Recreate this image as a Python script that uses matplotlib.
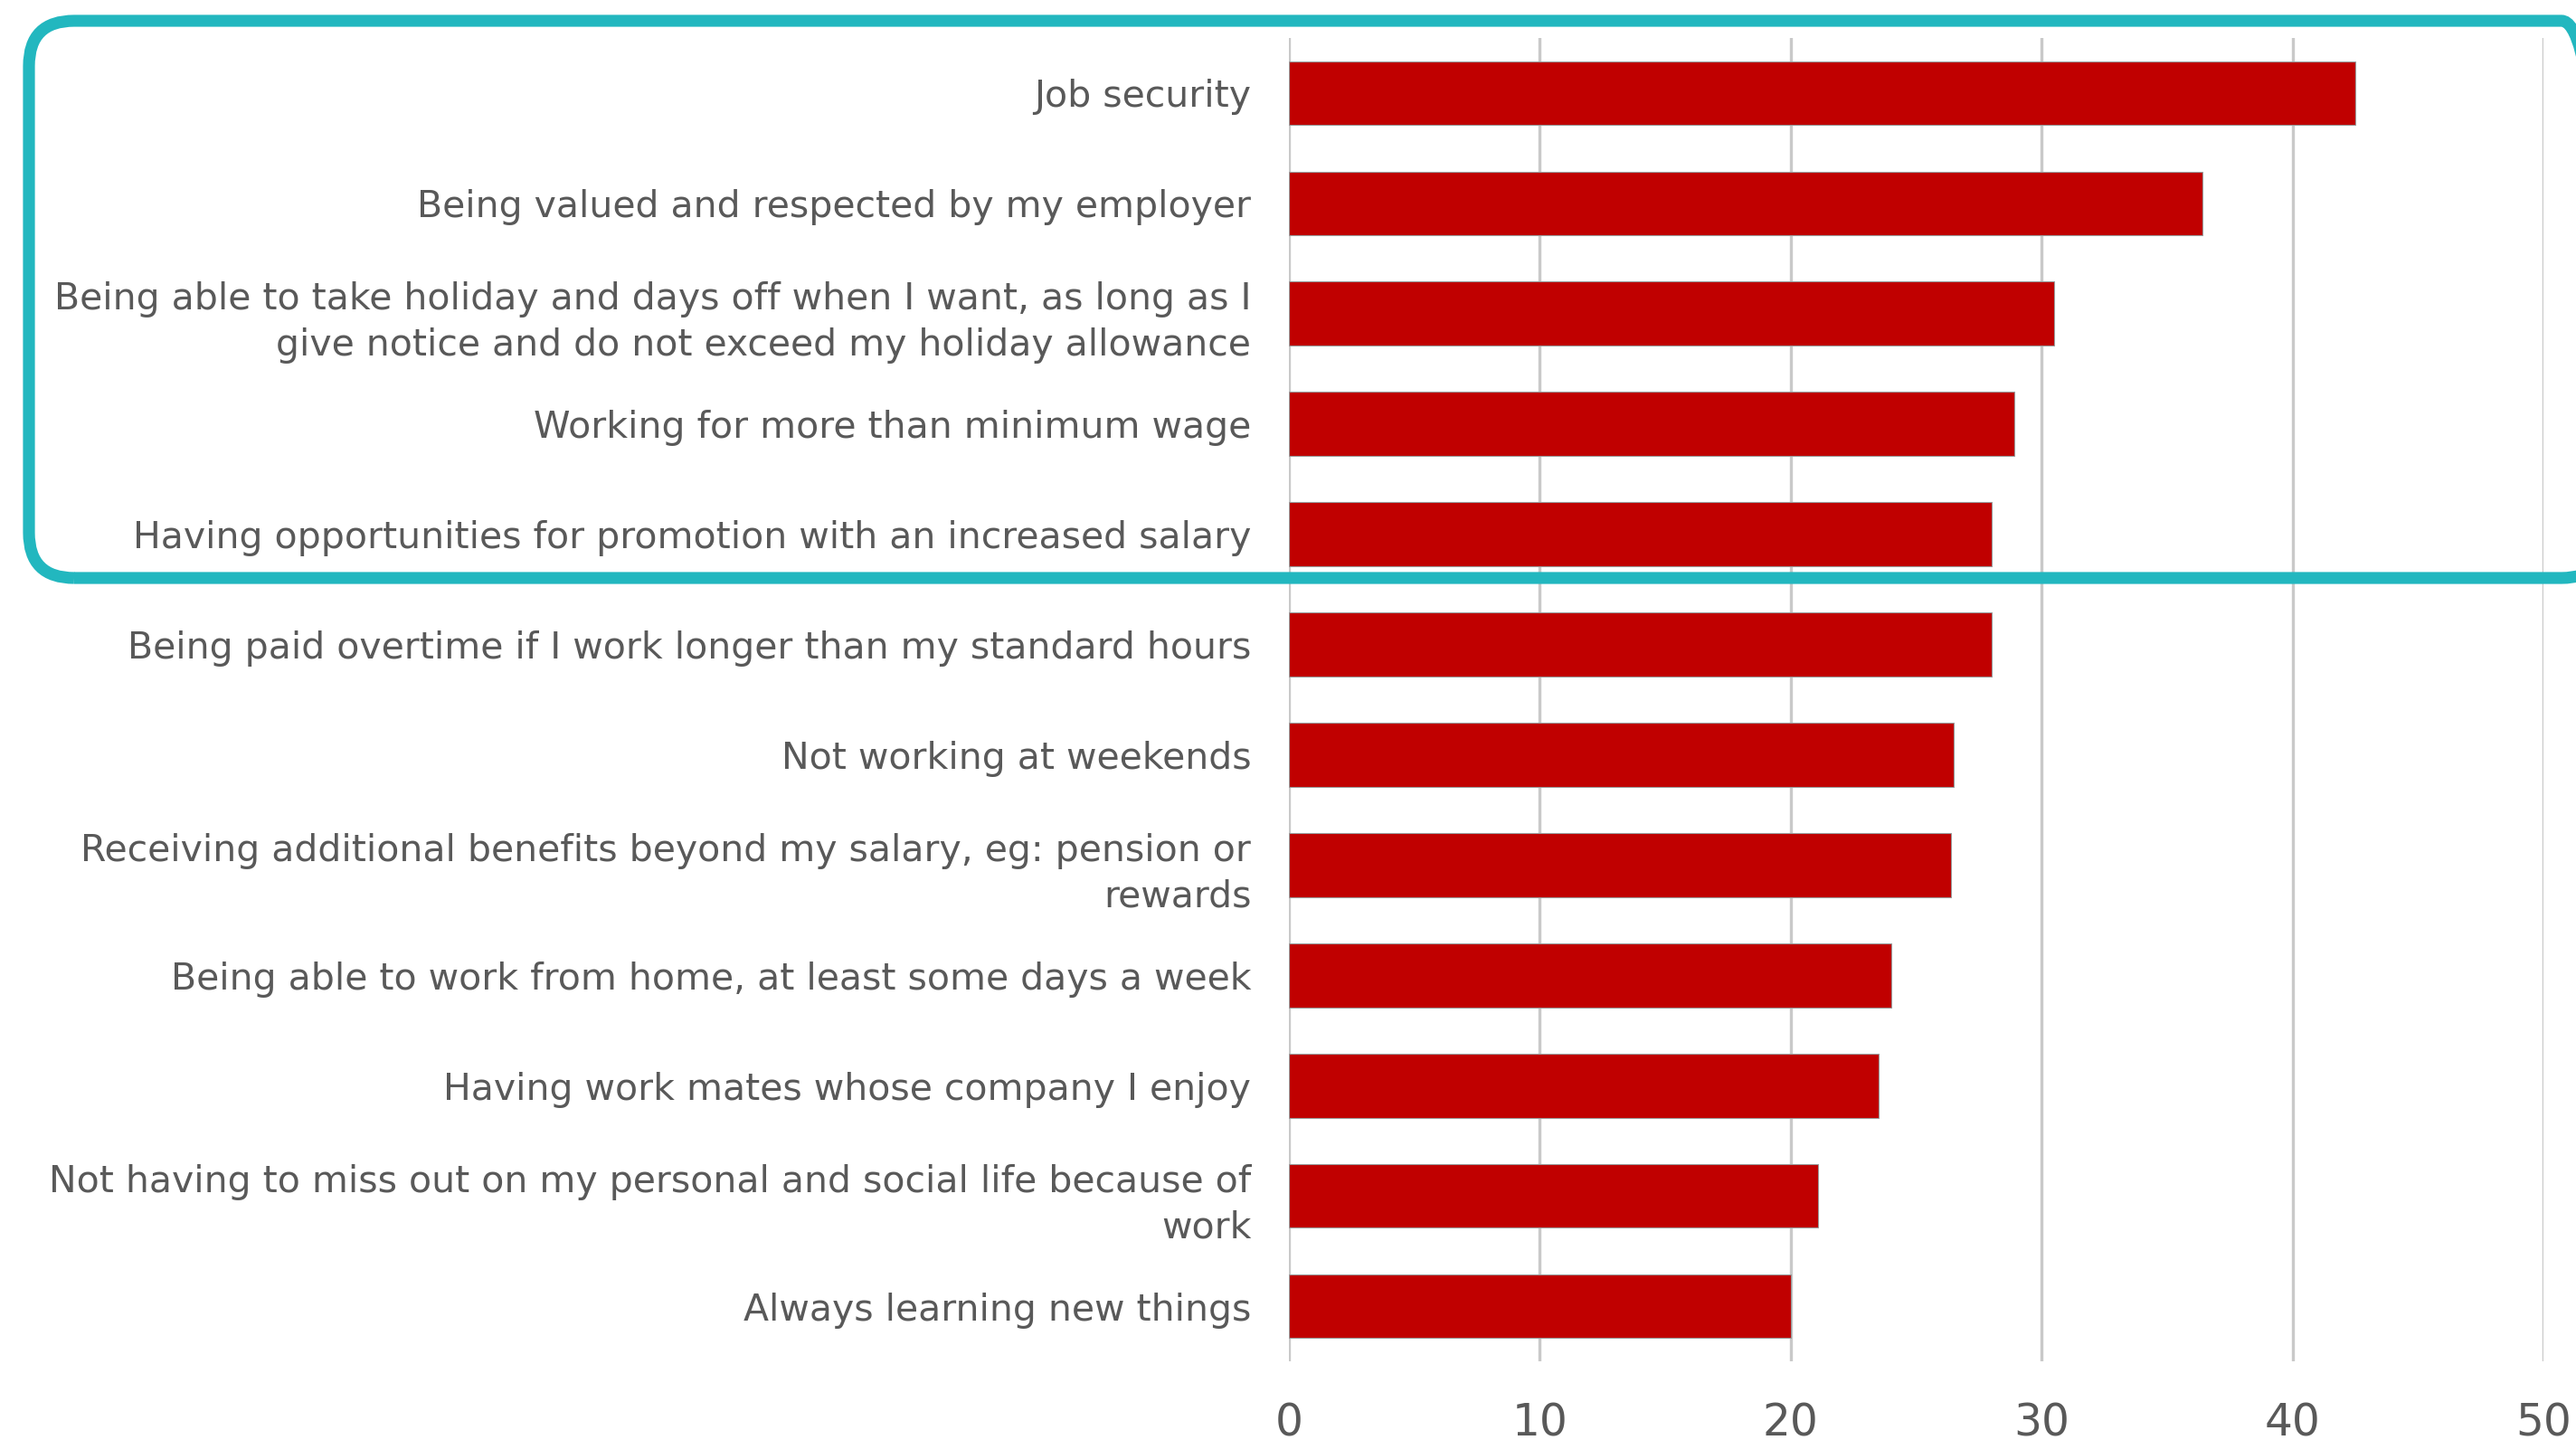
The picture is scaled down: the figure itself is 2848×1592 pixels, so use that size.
import matplotlib
matplotlib.use("Agg")
import matplotlib.pyplot as plt
from matplotlib.patches import FancyBboxPatch
from matplotlib.transforms import IdentityTransform

# Survey: what matters most in a job (% of respondents)
categories = [
    "Job security",
    "Being valued and respected by my employer",
    "Being able to take holiday and days off when I want, as long as I\ngive notice and do not exceed my holiday allowance",
    "Working for more than minimum wage",
    "Having opportunities for promotion with an increased salary",
    "Being paid overtime if I work longer than my standard hours",
    "Not working at weekends",
    "Receiving additional benefits beyond my salary, eg: pension or\nrewards",
    "Being able to work from home, at least some days a week",
    "Having work mates whose company I enjoy",
    "Not having to miss out on my personal and social life because of\nwork",
    "Always learning new things",
]
values = [42.5, 36.4, 30.5, 28.9, 28.0, 28.0, 26.5, 26.4, 24.0, 23.5, 21.1, 20.0]
x_ticks = [0, 10, 20, 30, 40, 50]

W, H, DPI = 2848, 1592, 100
TEXT = "#595959"
RED = "#C00000"
GRID = "#c9c9c9"
TEAL = "#22B7BF"

fig = plt.figure(figsize=(W / DPI, H / DPI), dpi=DPI)
fig.patch.set_facecolor("white")

left, right, top, bottom = 1425, 2812, 42, 1505
ax = fig.add_axes([left / W, 1 - bottom / H, (right - left) / W, (bottom - top) / H])

pos = list(range(len(categories)))
ax.barh(pos, values, height=0.58, color=RED, edgecolor="#9a9a9a",
        linewidth=0.8, zorder=3)

ax.set_xlim(0, 50)
ax.set_ylim(len(categories) - 0.5, -0.5)
ax.set_xticks(x_ticks)
ax.set_xticklabels([str(t) for t in x_ticks], fontsize=35, color=TEXT,
                   family="DejaVu Sans")
ax.set_yticks(pos)
ax.set_yticklabels(categories, fontsize=29.5, color=TEXT, family="DejaVu Sans",
                   linespacing=1.35)
ax.tick_params(axis="both", length=0)
ax.tick_params(axis="y", pad=30)
ax.tick_params(axis="x", pad=32)

ax.grid(axis="x", color=GRID, linewidth=2.4, zorder=0)
ax.grid(axis="y", visible=False)
ax.set_axisbelow(True)
for s in ax.spines.values():
    s.set_visible(False)

# Highlight frame around the top five answers (pixel coordinates)
frame = FancyBboxPatch((32, H - 639), 2882 - 32, 639 - 23,
                       boxstyle="round,pad=0,rounding_size=50",
                       transform=IdentityTransform(), fill=False,
                       edgecolor=TEAL, linewidth=9.5, zorder=10)
fig.add_artist(frame)

fig.savefig("out.png", dpi=DPI, facecolor="white")
